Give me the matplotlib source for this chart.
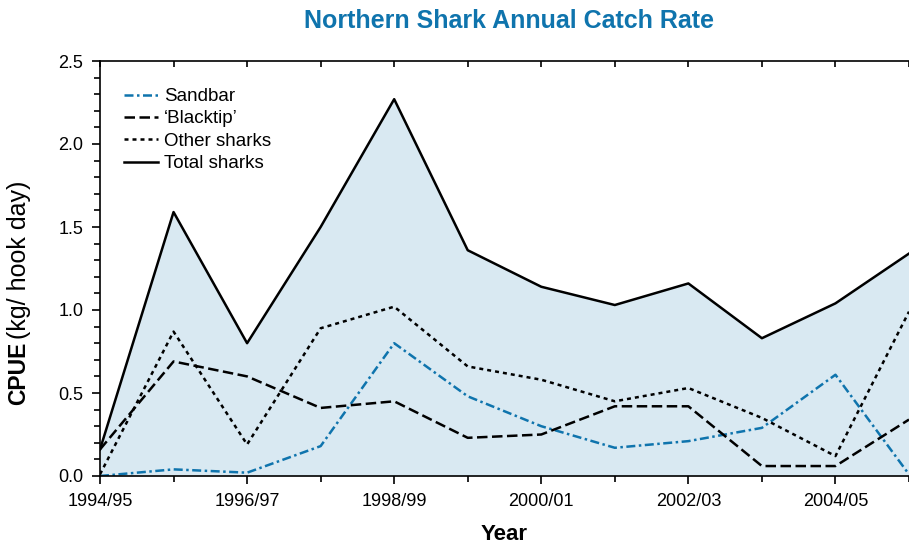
import numpy as np
import matplotlib
matplotlib.use("Agg")
import matplotlib.pyplot as plt

# CPUE by season (kg/ hook day)
seasons = ["1994/95", "1995/96", "1996/97", "1997/98", "1998/99", "1999/00",
           "2000/01", "2001/02", "2002/03", "2003/04", "2004/05", "2005/06"]
sandbar = [0.00, 0.04, 0.02, 0.18, 0.80, 0.48, 0.30, 0.17, 0.21, 0.29, 0.61, 0.01]
blacktip = [0.16, 0.69, 0.60, 0.41, 0.45, 0.23, 0.25, 0.42, 0.42, 0.06, 0.06, 0.34]
other = [0.01, 0.87, 0.19, 0.89, 1.02, 0.66, 0.58, 0.45, 0.53, 0.35, 0.12, 0.99]
total = [0.16, 1.59, 0.80, 1.50, 2.27, 1.36, 1.14, 1.03, 1.16, 0.83, 1.04, 1.34]

plt.rcParams["font.family"] = ["Liberation Sans", "DejaVu Sans"]

blue = "#0f74ad"
x = np.arange(len(seasons))

fig = plt.figure(figsize=(9.09, 5.47), dpi=100)
ax = fig.add_axes([100 / 909, 1 - 476 / 547, 1 - 100 / 909, 415 / 547])

ax.fill_between(x, total, 0, color="#d9e9f2", lw=0)
ax.plot(x, sandbar, color=blue, lw=1.8, dashes=(3.6, 1.4, 1.0, 1.4), label="Sandbar")
ax.plot(x, blacktip, color="black", lw=1.8, dashes=(4.2, 1.8), label="\u2018Blacktip\u2019")
ax.plot(x, other, color="black", lw=1.8, dashes=(1.6, 1.6), label="Other sharks")
ax.plot(x, total, color="black", lw=1.8, label="Total sharks")

ax.set_xlim(0, (909 - 99.7) / 74.2)
ax.set_ylim(0, 2.5)

ax.set_xticks(x[::2])
ax.set_xticklabels(seasons[::2], fontsize=13)
ax.set_xticks(x, minor=True)
yt = np.arange(0, 2.51, 0.5)
ax.set_yticks(yt)
ax.set_yticklabels([f"{v:.1f}" for v in yt], fontsize=13)
ax.set_yticks(np.arange(0, 2.51, 0.1), minor=True)
ax.tick_params(which="major", direction="out", length=6, width=1.2, pad=6)
ax.tick_params(which="minor", direction="out", length=4, width=1.2)

top = ax.secondary_xaxis("top")
top.set_xticks(x)
top.set_xticklabels([])
top.tick_params(direction="in", length=4, width=1.2)
top.spines["top"].set_linewidth(1.2)

for side in ["left", "bottom"]:
    ax.spines[side].set_linewidth(1.2)
ax.spines["right"].set_visible(False)
ax.spines["top"].set_visible(False)

ax.legend(loc="upper left", bbox_to_anchor=(24 / 809, 0.935), frameon=False,
          fontsize=13.5, handlelength=1.8, handletextpad=0.35,
          labelspacing=0.28, borderpad=0, borderaxespad=0)

ax.set_xlabel("Year", fontsize=16, fontweight="bold", labelpad=10)

fig.text(19 / 909, 1 - 405 / 547, "CPUE", rotation=90, ha="center", va="bottom",
         fontsize=16.5, fontweight="bold")
fig.text(19 / 909, 1 - 339 / 547, "(kg/ hook day)", rotation=90, ha="center",
         va="bottom", fontsize=18)

fig.text(509 / 909, 1 - 21 / 547, "Northern Shark Annual Catch Rate", ha="center",
         va="center", fontsize=18, fontweight="bold", color=blue)

fig.savefig("out.png", dpi=100)
